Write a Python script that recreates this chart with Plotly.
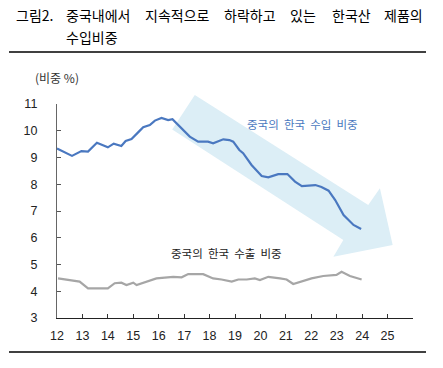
import plotly.graph_objects as go

# ---- data ----
imp_years = [12.0, 12.3, 12.59, 12.96, 13.22, 13.57, 14.0, 14.23, 14.53, 14.70, 14.93, 15.19, 15.39,
             15.65, 15.85, 16.11, 16.37, 16.54, 16.90, 17.22, 17.55, 17.94, 18.14, 18.54, 18.78,
             18.93, 19.17, 19.32, 19.65, 20.05, 20.31, 20.70, 21.06, 21.36, 21.63, 22.16, 22.40,
             22.68, 22.94, 23.27, 23.66, 23.96]
imp_share = [9.34, 9.20, 9.06, 9.24, 9.22, 9.55, 9.38, 9.52, 9.43, 9.62, 9.69, 9.94, 10.13,
             10.21, 10.38, 10.48, 10.40, 10.43, 10.09, 9.78, 9.59, 9.59, 9.53, 9.68, 9.65,
             9.59, 9.28, 9.16, 8.72, 8.31, 8.26, 8.38, 8.38, 8.10, 7.93, 7.97, 7.90,
             7.76, 7.41, 6.85, 6.48, 6.33]

exp_years = [12.04, 12.5, 12.89, 13.22, 13.68, 14.0, 14.27, 14.53, 14.73, 15.0, 15.13, 15.58,
             15.91, 16.57, 16.90, 17.16, 17.75, 18.14, 18.47, 18.87, 19.13, 19.46, 19.78, 19.98,
             20.31, 20.77, 21.03, 21.29, 21.62, 22.01, 22.47, 22.99, 23.19, 23.52, 23.98]
exp_share = [4.48, 4.40, 4.36, 4.11, 4.11, 4.11, 4.30, 4.32, 4.23, 4.32, 4.23, 4.36,
             4.48, 4.54, 4.52, 4.64, 4.64, 4.48, 4.44, 4.36, 4.44, 4.44, 4.48, 4.42,
             4.54, 4.48, 4.44, 4.27, 4.36, 4.48, 4.57, 4.61, 4.73, 4.57, 4.44]

x_ticks = list(range(12, 27))
x_labels = [str(t) for t in range(12, 26)] + [""]
y_ticks = [3, 4, 5, 6, 7, 8, 9, 10, 11]

# decorative trend arrow (data space: year, share)
arrow_pts = [(17.42, 11.34), (24.24, 7.22), (24.70, 7.85), (25.20, 5.73),
             (22.87, 5.29), (23.26, 5.92), (16.53, 10.05)]

X0, X1, Y0, Y1 = 12, 26, 3, 11
W, H = 443, 368
ML, MR, MT, MB = 57, 30, 104, 50
PW, PH = W - ML - MR, H - MT - MB


def px(x):
    return (x - ML) / PW


def py(y):
    return (H - MB - y) / PH


def dx(v):
    return (v - X0) / (X1 - X0)


def dy(v):
    return (v - Y0) / (Y1 - Y0)


path = "M " + " L ".join(f"{dx(a):.4f},{dy(b):.4f}" for a, b in arrow_pts) + " Z"

FONT = "Liberation Sans, Noto Sans CJK KR, sans-serif"
KFONT = "Noto Sans CJK KR, sans-serif"

fig = go.Figure()
fig.add_trace(go.Scatter(x=imp_years, y=imp_share, mode="lines",
                         line=dict(color="#4A78C0", width=2.2), showlegend=False,
                         hoverinfo="skip"))
fig.add_trace(go.Scatter(x=exp_years, y=exp_share, mode="lines",
                         line=dict(color="#A6A6A6", width=2.2), showlegend=False,
                         hoverinfo="skip"))

shapes = [
    dict(type="path", path=path, xref="paper", yref="paper",
         fillcolor="#DCEEF6", line=dict(width=0), layer="below"),
    dict(type="line", xref="paper", yref="paper", x0=px(9), x1=px(426), y0=py(52), y1=py(52),
         line=dict(color="black", width=1.5)),
    dict(type="line", xref="paper", yref="paper", x0=px(9), x1=px(426), y0=py(352), y1=py(352),
         line=dict(color="black", width=1.5)),
]

annotations = []
title_words = [("그림2.", 14), ("중국내에서", 64), ("지속적으로", 143), ("하락하고", 222),
               ("있는", 288), ("한국산", 330), ("제품의", 382)]
for w, xpix in title_words:
    annotations.append(dict(text=w, xref="paper", yref="paper", x=px(xpix), y=py(15),
                            xanchor="left", yanchor="middle", showarrow=False,
                            font=dict(family=KFONT, size=14, color="black")))
annotations.append(dict(text="수입비중", xref="paper", yref="paper", x=px(64), y=py(37),
                        xanchor="left", yanchor="middle", showarrow=False,
                        font=dict(family=KFONT, size=14, color="black")))
annotations.append(dict(text="(비중 %)", xref="paper", yref="paper", x=px(57), y=py(77),
                        xanchor="center", yanchor="middle", showarrow=False,
                        font=dict(family=KFONT, size=12, color="#333333")))
annotations.append(dict(text="중국의  한국  수입  비중", x=21.67, y=10.25, xref="x", yref="y",
                        showarrow=False, font=dict(family=KFONT, size=11.5, color="#4A78C0")))
annotations.append(dict(text="중국의  한국  수출  비중", x=18.68, y=5.43, xref="x", yref="y",
                        showarrow=False, font=dict(family=KFONT, size=11.5, color="#222222")))

fig.update_layout(
    width=W, height=H, margin=dict(l=ML, r=MR, t=MT, b=MB),
    plot_bgcolor="white", paper_bgcolor="white",
    shapes=shapes, annotations=annotations,
    xaxis=dict(range=[X0, X1], tickmode="array", tickvals=x_ticks, ticktext=x_labels,
               ticks="inside", ticklen=4, tickcolor="#333333", showline=True,
               linecolor="#222222", linewidth=1.3, showgrid=False, zeroline=False,
               tickfont=dict(family=FONT, size=12.5, color="#222222"), ticklabelstandoff=6),
    yaxis=dict(range=[Y0, Y1], tickmode="array", tickvals=y_ticks,
               ticks="inside", ticklen=4, tickcolor="#555555", showline=True,
               linecolor="#666666", linewidth=1.3, showgrid=False, zeroline=False,
               tickfont=dict(family=FONT, size=12.5, color="#222222"), ticklabelstandoff=16),
)

fig.write_html("out.html")
